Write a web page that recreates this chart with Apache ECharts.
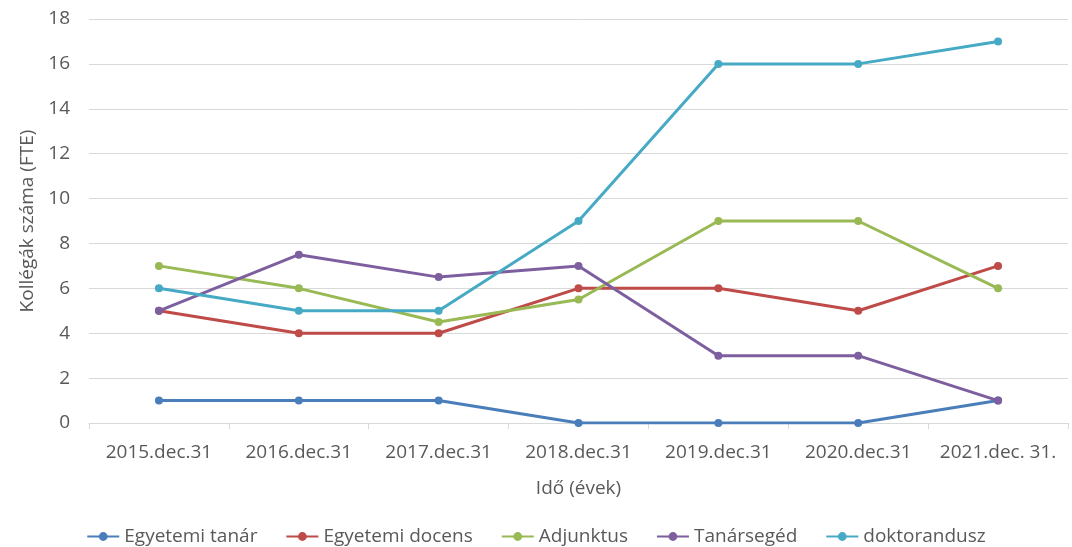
<!DOCTYPE html>
<html>
<head>
<meta charset="utf-8">
<script src="https://cdn.jsdelivr.net/npm/echarts@6/dist/echarts.min.js"></script>
<style>
  html, body { margin: 0; padding: 0; background: #fff; }
  #chart { width: 1072px; height: 547px; }
</style>
</head>
<body>
<div id="chart"></div>
<script>
// kategóriák (x tengely)
var years = ['2015.dec.31', '2016.dec.31', '2017.dec.31', '2018.dec.31', '2019.dec.31', '2020.dec.31', '2021.dec. 31.']

// sorozatok
var egyetemiTanar = [1, 1, 1, 0, 0, 0, 1]
var egyetemiDocens = [5, 4, 4, 6, 6, 5, 7]
var adjunktus = [7, 6, 4.5, 5.5, 9, 9, 6]
var tanarseged = [5, 7.5, 6.5, 7, 3, 3, 1]
var doktorandusz = [6, 5, 5, 9, 16, 16, 17]

var seriesNames = ['Egyetemi tanár', 'Egyetemi docens', 'Adjunktus', 'Tanársegéd', 'doktorandusz']
var seriesData = [egyetemiTanar, egyetemiDocens, adjunktus, tanarseged, doktorandusz]
var colors = ['#4a7ebb', '#be4b48', '#98b954', '#7d5fa0', '#46aac5']

var font = '"Open Sans", "Liberation Sans", sans-serif'
var textColor = '#595959'
var fs = 19

var chart = echarts.init(document.getElementById('chart'))

chart.setOption({
  animation: false,
  color: colors,
  textStyle: { fontFamily: font },
  grid: {
    left: 89,
    right: 4,
    top: 19,
    bottom: 124
  },
  legend: {
    bottom: -4,
    left: 'center',
    itemWidth: 32,
    itemHeight: 11,
    itemGap: 28,
    textStyle: { fontSize: fs, color: textColor, fontFamily: font },
    data: seriesNames
  },
  xAxis: {
    type: 'category',
    data: years,
    boundaryGap: true,
    name: 'Idő (évek)',
    nameLocation: 'middle',
    nameGap: 56,
    nameTextStyle: { fontSize: fs, color: textColor },
    axisLine: { lineStyle: { color: '#d9d9d9', width: 1 } },
    axisTick: { show: true, alignWithLabel: false, length: 6, lineStyle: { color: '#d9d9d9' } },
    axisLabel: { fontSize: fs, color: textColor, margin: 20, interval: 0 }
  },
  yAxis: {
    type: 'value',
    min: 0,
    max: 18,
    interval: 2,
    name: 'Kollégák száma (FTE)',
    nameLocation: 'middle',
    nameGap: 50,
    nameTextStyle: { fontSize: fs, color: textColor },
    axisLine: { show: false },
    axisTick: { show: false },
    axisLabel: { fontSize: fs, color: textColor, margin: 19 },
    splitLine: { lineStyle: { color: '#d9d9d9', width: 1 } }
  },
  series: seriesNames.map(function (name, i) {
    return {
      name: name,
      type: 'line',
      data: seriesData[i],
      symbol: 'circle',
      symbolSize: 8,
      lineStyle: { width: 3 },
      itemStyle: { color: colors[i] }
    }
  })
})
</script>
</body>
</html>
